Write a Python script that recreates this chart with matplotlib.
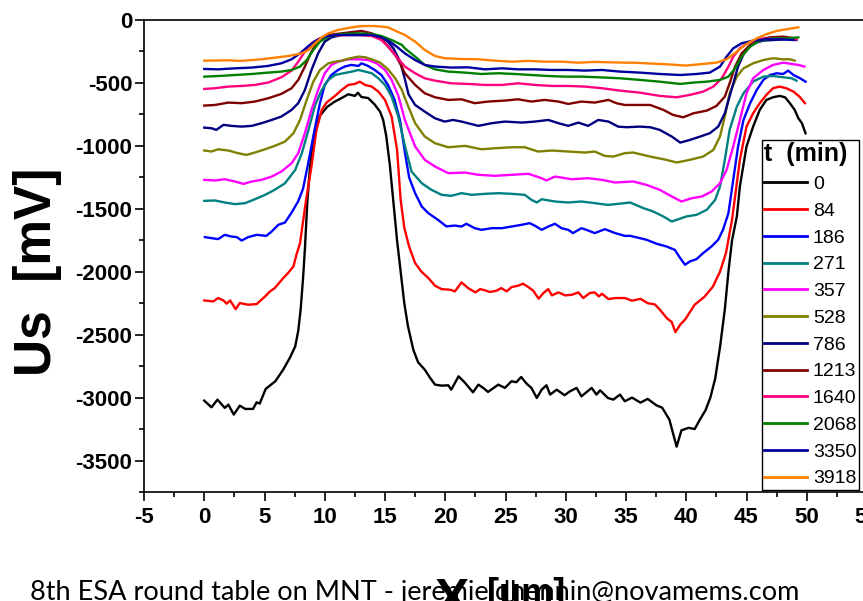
import numpy as np
import matplotlib.pyplot as plt
from matplotlib.ticker import MultipleLocator

plt.rcParams['font.family'] = ['Liberation Sans', 'DejaVu Sans']
plt.rcParams['axes.unicode_minus'] = False

# surface potential profiles Us(x) at different times t (min)
times = ['0', '84', '186', '271', '357', '528', '786', '1213', '1640', '2068', '3350', '3918']
colors = ['#000000', '#FF0000', '#0000FF', '#008080', '#FF00FF', '#808000',
          '#000080', '#800000', '#FF0080', '#008000', '#0000A0', '#FF8000']

x_0 = [0.0, 0.6, 1.1, 1.7, 2.0, 2.45, 2.95, 3.4, 4.05, 4.35, 4.6, 5.1, 5.9, 6.55, 7.1, 7.55, 7.8, 8.0, 8.2,
       8.35, 8.55, 8.75, 8.9, 9.2, 9.6, 10.2, 10.8, 11.4, 11.95, 12.5, 12.75, 13.05, 13.6, 14.15, 14.6, 14.85,
       15.1, 15.4, 15.7, 16.0, 16.3, 16.6, 16.9, 17.35, 17.75, 18.3, 18.75, 19.15, 19.7, 20.25, 20.5, 21.1,
       21.6, 22.3, 22.75, 23.15, 23.55, 24.4, 24.95, 25.5, 25.9, 26.3, 26.75, 27.15, 27.6, 28.0, 28.4, 28.7,
       29.25, 29.9, 30.35, 30.9, 31.3, 32.15, 32.55, 32.85, 33.5, 33.95, 34.5, 34.9, 35.5, 36.2, 36.8, 37.5,
       38.0, 38.6, 39.2, 39.6, 40.2, 40.7, 41.1, 41.6, 42.0, 42.4, 42.8, 43.2, 43.5, 43.8, 44.2, 44.45, 45.0,
       45.55, 46.1, 46.65, 47.2, 47.75, 48.2, 48.6, 49.0, 49.3, 49.6, 49.9]
y_0 = [-3024, -3077, -3016, -3082, -3056, -3135, -3064, -3090, -3090, -3037, -3048, -2931, -2870, -2778,
       -2685, -2593, -2470, -2300, -2050, -1825, -1450, -1200, -1060, -880, -760, -690, -650, -620, -590,
       -603, -578, -612, -620, -672, -730, -795, -920, -1150, -1450, -1750, -2000, -2250, -2430, -2620,
       -2720, -2778, -2844, -2897, -2905, -2902, -2937, -2831, -2878, -2958, -2897, -2923, -2955, -2897,
       -2923, -2870, -2878, -2836, -2889, -2923, -3003, -2937, -2902, -2976, -2937, -2981, -2950, -2923,
       -2990, -2923, -2976, -2942, -3003, -3016, -2976, -3029, -3000, -3040, -3010, -3060, -3080, -3175,
       -3390, -3260, -3240, -3250, -3180, -3100, -3000, -2850, -2600, -2300, -2000, -1750, -1560, -1323,
       -1005, -847, -714, -635, -614, -603, -614, -661, -714, -780, -820, -900]

x_84 = [0.0, 0.75, 1.15, 1.6, 1.85, 2.15, 2.6, 2.95, 3.65, 4.35, 5.05, 5.45, 5.85, 6.55, 6.95, 7.4, 7.65,
        7.95, 8.2, 8.45, 8.7, 8.9, 9.3, 9.75, 10.15, 10.85, 11.4, 11.95, 12.5, 12.9, 13.35, 13.9, 14.45,
        15.0, 15.55, 16.0, 16.3, 16.6, 17.0, 17.5, 18.0, 18.6, 19.15, 19.7, 20.4, 20.8, 21.35, 21.9, 22.5,
        22.9, 23.3, 23.7, 24.25, 24.65, 25.1, 25.5, 26.05, 26.45, 26.9, 27.3, 27.75, 28.15, 28.55, 28.85,
        29.4, 29.95, 30.5, 31.05, 31.45, 32.0, 32.4, 32.75, 33.0, 33.55, 34.1, 34.9, 35.5, 36.2, 36.8, 37.4,
        37.8, 38.4, 38.8, 39.1, 39.5, 39.9, 40.7, 41.5, 42.2, 42.8, 43.3, 43.8, 44.45, 45.0, 45.55, 46.1,
        46.65, 47.2, 47.75, 48.3, 48.9, 49.4, 49.85]
y_84 = [-2228, -2236, -2209, -2228, -2254, -2228, -2297, -2249, -2262, -2257, -2196, -2157, -2130, -2051,
        -2011, -1958, -1865, -1773, -1600, -1430, -1280, -1164, -880, -714, -656, -603, -556, -516, -508,
        -490, -516, -529, -569, -635, -767, -1030, -1430, -1650, -1800, -1931, -1997, -2050, -2111, -2138,
        -2143, -2156, -2085, -2130, -2164, -2138, -2148, -2161, -2151, -2130, -2156, -2122, -2111, -2095,
        -2122, -2151, -2214, -2169, -2138, -2188, -2164, -2188, -2183, -2164, -2209, -2169, -2164, -2196,
        -2175, -2217, -2209, -2209, -2230, -2215, -2250, -2260, -2300, -2370, -2400, -2480, -2420, -2380,
        -2262, -2200, -2120, -2000, -1850, -1587, -1111, -847, -741, -661, -595, -542, -529, -542, -569,
        -609, -661]

x_186 = [0.05, 0.6, 1.15, 1.7, 2.25, 2.7, 3.1, 3.65, 4.35, 5.15, 5.6, 6.15, 6.7, 7.25, 7.8, 8.2, 8.6, 9.2,
         9.6, 10.0, 10.55, 11.1, 11.65, 12.2, 12.8, 13.05, 13.6, 14.15, 14.7, 15.25, 15.8, 16.25, 16.65, 17.0,
         17.5, 18.05, 18.6, 19.4, 20.1, 20.8, 21.35, 21.75, 22.45, 23.0, 23.85, 24.7, 25.5, 26.35, 27.0, 27.45,
         28.0, 28.55, 29.1, 29.65, 30.2, 30.6, 31.3, 31.85, 32.4, 33.25, 34.1, 34.9, 35.35, 36.15, 36.7, 37.55,
         38.35, 39.05, 39.5, 39.9, 40.3, 40.85, 41.4, 42.1, 42.65, 43.05, 43.5, 43.9, 44.3, 44.75, 45.3, 45.85,
         46.4, 46.95, 47.5, 48.05, 48.45, 48.9, 49.45, 49.9]
y_186 = [-1725, -1733, -1741, -1707, -1720, -1725, -1752, -1725, -1707, -1715, -1680, -1627, -1609, -1530,
         -1440, -1340, -1150, -850, -661, -516, -437, -397, -370, -357, -365, -344, -365, -397, -437, -516,
         -635, -800, -1050, -1250, -1376, -1482, -1535, -1588, -1640, -1633, -1641, -1619, -1654, -1667, -1654,
         -1654, -1641, -1627, -1614, -1635, -1667, -1641, -1619, -1654, -1667, -1693, -1654, -1672, -1693,
         -1662, -1693, -1715, -1715, -1733, -1746, -1778, -1799, -1826, -1892, -1945, -1918, -1900, -1852,
         -1799, -1746, -1667, -1535, -1270, -1005, -794, -661, -556, -476, -437, -423, -429, -402, -437,
         -463, -490]

x_271 = [0.0, 0.9, 1.7, 2.55, 3.4, 4.2, 5.05, 5.85, 6.7, 7.55, 8.1, 8.65, 9.2, 9.75, 10.3, 10.85, 11.55, 12.25,
         12.8, 13.35, 13.9, 14.45, 15.0, 15.55, 16.1, 16.65, 17.2, 18.05, 18.85, 19.7, 20.5, 21.35, 22.2, 23.3,
         24.4, 25.5, 26.6, 27.15, 27.6, 28.0, 29.1, 30.2, 31.3, 32.4, 33.5, 34.9, 35.35, 36.45, 37.25, 38.1,
         38.8, 39.2, 40.0, 40.85, 41.7, 42.4, 42.8, 43.2, 43.6, 44.2, 44.75, 45.55, 46.4, 47.2, 48.05, 48.75,
         49.15]
y_271 = [-1437, -1434, -1450, -1463, -1455, -1424, -1389, -1349, -1297, -1191, -1058, -873, -675, -556, -476,
         -437, -423, -410, -397, -410, -423, -463, -516, -609, -767, -1000, -1204, -1297, -1349, -1389, -1397,
         -1376, -1389, -1381, -1376, -1381, -1389, -1429, -1450, -1424, -1442, -1450, -1442, -1455, -1469,
         -1455, -1450, -1495, -1521, -1561, -1601, -1588, -1561, -1548, -1508, -1429, -1323, -1111, -873,
         -688, -582, -489, -450, -445, -455, -463, -482]

x_357 = [0.0, 0.9, 1.7, 2.55, 3.25, 3.95, 4.75, 5.6, 6.4, 7.25, 7.8, 8.35, 8.9, 9.45, 10.0, 10.55, 11.1, 11.95,
         12.8, 13.6, 14.3, 15.0, 15.55, 16.1, 16.65, 17.5, 18.3, 19.15, 20.25, 21.65, 22.75, 24.1, 25.5, 26.9,
         28.0, 28.4, 29.1, 30.5, 31.85, 33.0, 34.1, 35.6, 36.7, 37.8, 38.8, 39.6, 40.45, 41.3, 42.1, 42.8,
         43.35, 43.9, 44.45, 45.0, 45.55, 46.4, 47.2, 48.05, 48.75, 49.3, 49.8]
y_357 = [-1270, -1275, -1265, -1283, -1302, -1283, -1270, -1244, -1204, -1138, -1058, -900, -714, -556, -423,
         -357, -331, -312, -312, -318, -344, -397, -476, -600, -794, -1005, -1111, -1164, -1217, -1212, -1230,
         -1238, -1230, -1222, -1257, -1275, -1244, -1265, -1257, -1270, -1291, -1283, -1310, -1349, -1402,
         -1442, -1416, -1402, -1363, -1297, -1191, -1005, -794, -582, -463, -397, -357, -339, -349, -357, -370]

x_528 = [0.0, 0.6, 1.15, 2.0, 2.8, 3.5, 4.2, 5.05, 5.85, 6.7, 7.4, 7.95, 8.5, 9.05, 9.6, 10.3, 10.85, 11.4,
         12.1, 12.8, 13.35, 13.9, 14.6, 15.25, 15.85, 16.4, 16.65, 17.5, 18.3, 19.15, 20.25, 21.65, 23.0, 24.1,
         25.5, 26.6, 27.7, 28.85, 30.2, 31.6, 32.4, 33.25, 33.95, 34.9, 35.6, 37.0, 38.35, 39.2, 40.3, 41.4,
         42.25, 42.8, 43.2, 43.6, 44.2, 44.75, 45.55, 46.4, 47.2, 48.05, 48.6, 49.0]
y_528 = [-1037, -1045, -1027, -1037, -1058, -1072, -1053, -1027, -1000, -966, -900, -794, -635, -490, -397,
         -344, -331, -323, -304, -291, -296, -312, -339, -392, -463, -556, -620, -820, -926, -979, -1011, -1000,
         -1027, -1019, -1011, -1011, -1045, -1037, -1045, -1053, -1045, -1080, -1085, -1058, -1053, -1085,
         -1111, -1132, -1111, -1085, -1032, -926, -767, -582, -450, -384, -344, -318, -304, -312, -312, -323]

x_786 = [0.0, 0.6, 1.0, 1.6, 2.25, 3.1, 3.95, 4.75, 5.6, 6.4, 7.25, 7.8, 8.35, 8.9, 9.45, 10.0, 10.55, 11.4,
         12.5, 13.6, 14.45, 15.15, 15.7, 16.25, 16.65, 16.95, 17.5, 18.3, 19.15, 19.95, 20.65, 21.35, 22.75,
         23.85, 24.95, 26.35, 27.45, 28.55, 29.4, 30.2, 31.05, 31.85, 32.7, 33.55, 34.35, 35.05, 36.15, 37.0,
         37.8, 38.8, 39.5, 40.3, 41.15, 41.95, 42.65, 43.2, 43.75, 44.3, 44.85, 45.55, 46.4, 47.2, 48.3, 49.15]
y_786 = [-855, -860, -873, -833, -841, -847, -841, -820, -794, -767, -714, -661, -556, -397, -265, -172, -138,
         -119, -119, -119, -132, -164, -225, -330, -470, -590, -675, -728, -781, -807, -794, -807, -841, -820,
         -807, -815, -807, -794, -820, -841, -815, -841, -794, -807, -847, -852, -847, -852, -873, -926, -974,
         -953, -926, -900, -847, -741, -556, -370, -251, -185, -164, -159, -153, -159]

x_1213 = [0.0, 0.9, 2.0, 3.1, 4.2, 5.3, 6.4, 7.25, 7.8, 8.35, 8.9, 9.45, 10.3, 11.4, 12.5, 13.05, 13.9, 14.7,
          15.25, 15.85, 16.25, 16.65, 17.5, 18.3, 19.15, 20.25, 21.35, 22.45, 23.55, 24.95, 26.05, 27.15,
          28.25, 29.4, 30.2, 31.3, 32.4, 33.55, 34.2, 34.9, 35.6, 37.0, 38.1, 38.9, 39.75, 40.6, 41.7, 42.5,
          43.2, 43.6, 44.05, 44.6, 45.3, 46.1, 46.95, 48.05, 49.0]
y_1213 = [-680, -675, -656, -661, -648, -622, -587, -542, -476, -370, -251, -164, -119, -106, -93, -87, -106,
          -146, -212, -278, -344, -423, -516, -582, -614, -635, -630, -661, -648, -640, -630, -648, -635, -648,
          -667, -648, -656, -635, -661, -675, -675, -675, -714, -754, -773, -741, -720, -683, -609, -503, -370,
          -265, -198, -153, -138, -132, -146]

x_1640 = [0.0, 0.9, 2.0, 3.1, 4.2, 5.3, 6.4, 7.25, 7.8, 8.35, 8.9, 9.6, 10.55, 11.65, 12.8, 13.9, 14.7, 15.4,
          15.95, 16.65, 17.5, 18.3, 19.15, 20.5, 21.9, 23.3, 24.7, 26.05, 27.45, 28.85, 30.2, 31.6, 33.0, 34.5,
          36.15, 37.8, 39.2, 40.3, 41.4, 42.25, 42.95, 43.5, 43.9, 44.45, 45.15, 46.1, 47.2, 48.3, 49.15]
y_1640 = [-548, -542, -529, -524, -516, -497, -455, -402, -331, -251, -185, -146, -127, -119, -119, -127, -159,
          -225, -291, -370, -423, -463, -482, -503, -508, -516, -516, -503, -516, -524, -524, -529, -542, -561,
          -577, -603, -614, -595, -569, -529, -463, -370, -291, -225, -180, -153, -146, -146, -153]

x_2068 = [0.0, 1.15, 2.55, 3.95, 5.3, 6.4, 7.25, 7.95, 8.5, 9.05, 9.6, 10.3, 11.4, 12.8, 13.9, 14.7, 15.55,
          16.4, 16.65, 17.5, 18.3, 19.15, 20.25, 21.65, 23.0, 24.4, 25.8, 27.15, 28.55, 29.95, 31.3, 32.7, 34.5,
          36.15, 37.8, 39.5, 40.6, 41.7, 42.8, 43.5, 44.05, 44.6, 45.3, 46.1, 47.2, 48.3, 49.3]
y_2068 = [-450, -445, -437, -429, -418, -410, -397, -370, -318, -238, -172, -132, -111, -106, -111, -127, -159,
          -198, -225, -291, -357, -392, -410, -418, -429, -423, -429, -437, -445, -450, -450, -455, -463, -476,
          -490, -508, -497, -490, -476, -450, -384, -291, -212, -164, -146, -146, -138]

x_3350 = [0.0, 1.15, 2.55, 3.95, 5.3, 6.4, 7.25, 7.95, 8.65, 9.35, 10.0, 11.1, 12.5, 13.9, 14.7, 15.4, 15.95,
          16.65, 17.5, 18.3, 19.15, 20.5, 21.9, 23.3, 24.7, 26.05, 27.45, 28.85, 30.2, 31.6, 33.0, 34.5, 36.15,
          37.8, 39.5, 40.85, 41.95, 42.8, 43.35, 43.9, 44.6, 45.55, 46.65, 47.8, 48.9]
y_3350 = [-389, -392, -384, -378, -365, -344, -312, -265, -206, -159, -132, -119, -119, -119, -138, -172, -210,
          -265, -318, -357, -370, -378, -376, -392, -384, -392, -392, -397, -397, -402, -397, -410, -418, -429,
          -437, -429, -418, -370, -291, -225, -185, -164, -153, -153, -159]

x_3918 = [0.0, 1.0, 2.0, 3.0, 4.0, 4.75, 7.0, 8.1, 8.65, 9.2, 9.75, 10.3, 11.1, 12.25, 13.05, 14.15, 15.25,
          15.85, 16.65, 17.5, 18.3, 19.15, 19.95, 21.35, 22.75, 24.1, 25.5, 26.9, 28.25, 29.65, 31.05, 32.4,
          34.9, 35.6, 38.4, 40.0, 41.1, 42.5, 43.35, 44.2, 45.0, 45.85, 46.7, 47.5, 48.3, 49.3]
y_3918 = [-323, -322, -320, -325, -318, -312, -286, -265, -238, -185, -138, -106, -79, -58, -48, -48, -58, -85,
          -119, -172, -238, -286, -304, -310, -312, -323, -331, -325, -331, -331, -339, -333, -339, -339, -352,
          -362, -352, -339, -312, -251, -190, -146, -111, -87, -74, -58]

xs = [x_0, x_84, x_186, x_271, x_357, x_528, x_786, x_1213, x_1640, x_2068, x_3350, x_3918]
ys = [y_0, y_84, y_186, y_271, y_357, y_528, y_786, y_1213, y_1640, y_2068, y_3350, y_3918]

fig = plt.figure(figsize=(8.63, 6.01), dpi=100)
ax = fig.add_axes([144 / 863, 1 - 492 / 601, 723 / 863, 472 / 601])

for x, y, t, c in zip(xs, ys, times, colors):
    ax.plot(x, y, color=c, lw=1.7, label=t)

ax.set_xlim(-5, 55)
ax.set_ylim(-3750, 0)
ax.xaxis.set_major_locator(MultipleLocator(5))
ax.xaxis.set_minor_locator(MultipleLocator(2.5))
ax.yaxis.set_major_locator(MultipleLocator(500))
ax.yaxis.set_minor_locator(MultipleLocator(250))
ax.tick_params(which='major', direction='out', length=6.5, width=1.2)
ax.tick_params(which='minor', direction='out', length=3.3, width=1.2)
ax.tick_params(axis='x', which='major', pad=4)
ax.tick_params(axis='y', which='major', pad=2)
for lab in ax.get_xticklabels() + ax.get_yticklabels():
    lab.set_fontsize(16)
    lab.set_fontweight('bold')
for s in ['left', 'bottom', 'top']:
    ax.spines[s].set_linewidth(1.2)
ax.spines['right'].set_visible(False)

leg = ax.legend(title='t  (min)', loc='upper left',
                bbox_to_anchor=(762 / 863, 1 - 140 / 601), bbox_transform=fig.transFigure,
                borderaxespad=0, fontsize=14, title_fontproperties={'size': 18, 'weight': 'bold'},
                alignment='left', frameon=True, fancybox=False, framealpha=1, edgecolor='black',
                handlelength=2.2, handletextpad=0.3, labelspacing=0.47, borderpad=0.12)
leg.get_frame().set_linewidth(1.0)
for h in leg.get_lines():
    h.set_linewidth(2)

fig.text(37 / 863, 1 - 272 / 601, 'Us  [mV]', rotation=90, ha='center', va='center',
         fontsize=37, fontweight='bold')
fig.text(435 / 863, -0.023, 'X', ha='left', va='baseline', fontsize=37, fontweight='bold')
fig.text(487 / 863, -3 / 601, '[um]', ha='left', va='baseline', fontsize=26, fontweight='bold')
fig.text(30 / 863, 1 / 601, '8th ESA round table on MNT - jeremie.dhennin@novamems.com',
         ha='left', va='baseline', fontsize=19.5, family=['Lato', 'DejaVu Sans'])

fig.savefig('out.png', dpi=100)
